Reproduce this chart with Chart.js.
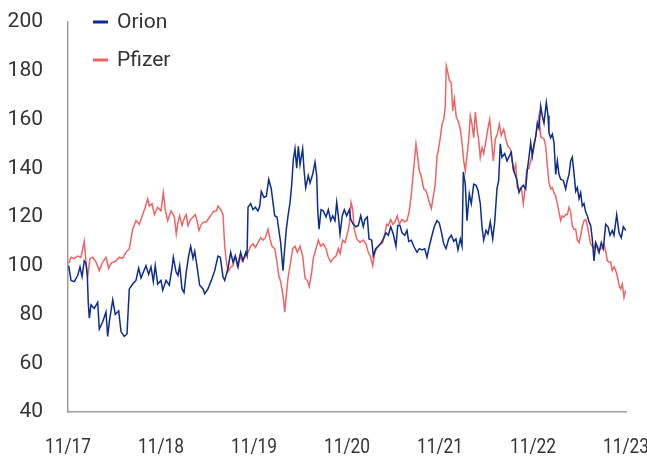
<!DOCTYPE html>
<html>
<head>
<meta charset="utf-8">
<script src="https://cdn.jsdelivr.net/npm/chart.js@4"></script>
<style>
  body { margin: 0; background: #fff; }
</style>
</head>
<body>
<canvas id="myChart" width="647" height="457"></canvas>
<script>
// months since 11/2017
const tickPos = [0, 12, 24, 36, 48, 60, 72];
const tickLabels = ['11/17', '11/18', '11/19', '11/20', '11/21', '11/22', '11/23'];
const yTicks = [40, 60, 80, 100, 120, 140, 160, 180, 200];

const orionT = [0.09,0.39,0.81,1.25,1.55,1.81,2.10,2.32,2.49,2.62,2.75,2.97,3.39,3.83,4.04,4.48,4.90,5.12,5.33,5.77,
  6.10,6.54,6.84,7.26,7.61,7.91,8.35,8.77,9.12,9.42,10.06,10.41,10.71,11.01,11.26,11.57,12.00,12.22,12.65,13.07,
  13.42,13.59,13.94,14.19,
  14.41,14.71,14.97,15.26,15.57,15.83,16.13,16.35,16.68,16.99,17.42,17.64,18.06,18.49,18.93,19.35,19.65,20.00,20.22,20.65,
  20.99,21.29,21.59,21.94,22.28,22.58,22.93,23.10,23.23,23.57,23.87,24.17,24.52,24.74,24.94,25.29,25.59,25.90,26.23,26.45,
  26.67,26.97,27.19,27.44,27.74,27.96,28.17,28.39,28.65,
  28.86,29.07,29.29,29.51,29.72,29.94,30.28,30.45,30.67,31.01,31.23,31.57,31.87,32.09,32.22,32.39,32.65,32.94,33.29,33.59,
  33.90,34.15,34.45,34.67,34.88,35.10,35.39,35.65,35.96,36.30,36.48,36.81,37.16,37.46,37.77,38.10,38.32,38.62,38.84,39.19,
  39.39,39.70,40.04,40.35,40.68,41.03,41.33,41.64,41.97,42.32,42.54,42.84,43.10,
  43.45,43.74,43.96,44.30,44.61,45.03,45.33,45.68,46.03,46.32,46.62,46.97,47.26,47.61,47.91,48.17,48.48,48.77,49.12,49.46,
  49.77,50.06,50.32,50.62,50.84,51.01,51.26,51.48,51.78,52.04,52.35,52.65,52.90,53.20,53.42,53.64,53.94,54.19,54.49,54.80,
  55.06,55.35,55.57,55.78,56.00,56.35,56.65,56.94,57.20,57.46,
  57.90,58.19,58.49,58.75,59.06,59.27,59.48,59.70,59.91,60.13,60.35,60.56,60.77,60.99,61.20,61.42,61.72,61.94,62.06,62.28,
  62.49,62.71,62.93,63.14,63.35,63.57,63.91,64.22,64.43,64.65,64.86,65.07,65.29,65.51,65.72,65.94,66.15,66.36,66.58,66.80,
  67.01,67.23,67.44,67.65,67.87,68.09,68.30,68.52,68.81,69.07,69.38,69.68,69.94,70.23,70.45,70.80,71.10,71.39,71.65,71.96];
const orionV = [100,94,93.5,96,99.5,95.5,102,101,96,84.5,78.5,84,82.5,85,74,77,81,71,77,86,
  80,81.5,73,71,72,90.5,92.5,94,99,95,100,96.5,99.5,93.5,100,92.5,94,90,94,92,
  99,103.5,97.5,96,
  100,90.5,89,97.5,104,108,103,106,99,92,90.5,88.5,90.5,94,98,104,103.5,95.5,94,99,
  105.5,101.5,104,99.5,105.5,102,105.5,104,124,125.5,123,124,122.5,124.5,130.5,128,128.5,135.5,131.5,126,
  120.5,120,115,109.5,98,107,115,120.5,126,
  133,143.5,148,140,149,141.5,148,139.5,132,137,134,137.5,142.5,137,123,115,123,122.5,120,123,
  118.5,120.5,118.5,126,120.5,113,120.5,123,120.5,123,119,117,116,116.5,120.5,116,119,120,111,110.5,
  104,107,108,109,111,113.5,112.5,116,113,108,116.5,116.5,113.5,
  112.5,114.5,110,110.5,108,105.5,107,106.5,107,103.5,108,112.5,116,118.5,117.5,114,109,107,111,112.5,
  110,111,106.5,111,108,138.5,133.5,118.5,129.5,125.5,133.5,133,131,125.5,116,110.5,114.5,113,118,111,
  118,131.5,135,150,144.5,146,143,145,146.5,139.5,
  135.5,130,132,133,131.5,139.5,144.5,150.5,145,150,153,158.5,156.5,165.5,161.5,158.5,167,161.5,154.5,152.5,
  154,150.5,137.5,143,137.5,135.5,135,131.5,135,137.5,143,144.5,138,130.5,132,127.5,130,124.5,125.5,122,
  120.5,118,116.5,111,102,109.5,108,105.5,109.5,107,117,116,112.5,114.5,112.5,121,113.5,111.5,116,114.5];

const pfizerT = [0.09,0.39,0.81,1.25,1.68,2.10,2.32,2.54,2.84,3.19,3.61,4.04,4.48,4.90,5.25,5.55,6.19,6.62,7.06,7.48,
  7.91,8.35,8.77,9.20,9.64,9.97,10.28,10.49,10.84,11.14,11.57,12.00,12.30,12.55,12.86,13.29,13.72,13.97,
  14.19,14.41,14.71,15.06,15.26,15.48,15.83,16.13,16.43,16.68,16.90,17.20,17.55,17.85,18.28,18.49,18.84,19.14,19.35,19.70,
  20.00,20.22,20.43,20.65,20.99,21.29,21.59,21.85,22.15,22.45,22.80,23.23,23.57,23.87,24.17,24.52,24.86,25.16,25.46,25.81,
  26.06,26.32,26.67,26.97,27.19,27.44,27.74,27.96,28.17,28.39,
  28.65,28.99,29.29,29.59,29.94,30.28,30.58,30.88,31.13,31.45,31.65,32.00,32.30,32.61,32.94,33.29,33.59,33.90,34.23,34.58,
  34.88,35.10,35.44,35.74,36.04,36.30,36.52,36.74,36.94,37.25,37.68,38.10,38.45,38.75,39.06,39.32,39.61,39.91,40.26,40.61,
  40.90,41.12,41.33,41.64,41.90,42.19,42.49,42.75,43.10,
  43.45,43.74,44.04,44.30,44.48,44.74,44.90,45.12,45.33,45.59,45.90,46.19,46.54,46.88,47.19,47.39,47.61,47.83,48.04,48.26,
  48.48,48.68,48.81,49.03,49.20,49.46,49.64,49.85,50.10,50.32,50.62,50.84,51.06,51.26,51.48,51.70,51.91,52.13,52.35,52.55,
  52.77,52.99,53.20,53.42,53.64,53.94,54.19,54.41,54.62,54.88,55.14,55.44,55.65,55.91,56.22,56.52,56.77,57.07,57.29,57.55,
  57.77,57.97,58.19,58.49,58.75,58.97,59.19,59.48,59.70,59.91,60.13,60.35,60.56,60.77,60.99,61.20,61.42,61.64,61.85,62.06,
  62.28,62.49,62.71,62.93,63.14,63.35,63.57,63.78,64.00,64.22,64.43,64.65,64.86,65.07,65.29,65.51,65.72,65.94,66.15,66.36,
  66.58,66.80,67.01,67.23,67.44,67.65,67.87,68.09,68.30,68.52,68.73,68.94,69.16,69.38,69.59,69.81,70.02,70.23,70.45,70.67,
  70.87,71.10,71.31,71.52,71.74,71.96];
const pfizerV = [101,103.5,103,104,103.5,110,101.5,95.5,103,103.5,101.5,98,101.5,103.5,99,101,102,103.5,103,105.5,
  107,115,118.5,117,121,124,127.5,124.5,125.5,121,124,122.5,130,123,118.5,122.5,120,113,
  118,120.5,116.5,120,121,116.5,119,120,121,118,114.5,117,118,118,120,121,122.5,122.5,124.5,123,
  121,108,102,97.5,99.5,100,104,100,104,102,103.5,105.5,108,109,107.5,109.5,111.5,110.5,111.5,115,
  111,108,107,101.5,96,93.5,88,81,88,95,
  100,107,108,105.5,108,104,95,94,91.5,97.5,103,107,110.5,108,109,107,103.5,101.5,103,104,
  107,105,110.5,109.5,113,117,126,123,115,111,109.5,110.5,109,105.5,103.5,100,105.5,107.5,109,109.5,
  113.5,117,116.5,119,117,118,120.5,117,119,
  118,118.5,122.5,129.5,135.5,144.5,150,144.5,139,136.5,131.5,131,127,123.5,129.5,133.5,144.5,148.5,152.5,158,
  160,165,182,179,176,175,163.5,168.5,161,159.5,156,150.5,143,139,145,151.5,161.5,158,152.5,163,
  156.5,151.5,144.5,148.5,146,151.5,156.5,160,152.5,143,152,154.5,158,153.5,156,151.5,149,148,143,139,
  141.5,132,131.5,132,125.5,131.5,139.5,140,143,145.5,148.5,153,157.5,161.5,153,152.5,152,149,141,134,
  131.5,132,130,128.5,125.5,122,118.5,120.5,120,121,121,124,122,116.5,115,115,110.5,109.5,112.5,116,
  118.5,119,116.5,112.5,109,108,107,109.5,107,105.5,107.5,107,109,106,102,101.5,101.5,98,99.5,98,
  96,92,90.5,92.5,87,90];

const toPoints = (t, v) => t.map((x, i) => ({ x: x, y: v[i] }));

const textColor = '#333333';
const axisColor = '#9c9c9c';

// legend inside the plot (top left) and narrow date labels under the x axis
const extraText = {
  id: 'extraText',
  afterDraw(chart) {
    const ctx = chart.ctx;
    const area = chart.chartArea;
    ctx.save();
    ctx.font = '21px Roboto';
    ctx.textBaseline = 'middle';
    chart.data.datasets.forEach((ds, i) => {
      const y = area.top + i * 38;
      ctx.strokeStyle = ds.borderColor;
      ctx.lineWidth = 3;
      ctx.beginPath();
      ctx.moveTo(area.left + 25, y);
      ctx.lineTo(area.left + 40, y);
      ctx.stroke();
      ctx.fillStyle = textColor;
      ctx.fillText(ds.label, area.left + 49, y + 1);
    });

    // date labels: squeezed horizontally like a condensed face
    ctx.textAlign = 'center';
    const k = 46 / ctx.measureText('11/17').width;
    const xs = chart.scales.x;
    tickPos.forEach((v, i) => {
      ctx.save();
      ctx.translate(xs.getPixelForValue(v), area.bottom + 36);
      ctx.scale(k, 1);
      ctx.fillText(tickLabels[i], 0, 0);
      ctx.restore();
    });
    ctx.restore();
  }
};

var ctx = document.getElementById('myChart').getContext('2d');
var chart = new Chart(ctx, {
  type: 'line',
  data: {
    datasets: [
      {
        label: 'Orion',
        data: toPoints(orionT, orionV),
        borderColor: '#0d2d8c',
        borderWidth: 1.5,
        pointRadius: 0,
        tension: 0
      },
      {
        label: 'Pfizer',
        data: toPoints(pfizerT, pfizerV),
        borderColor: '#f06464',
        borderWidth: 1.5,
        pointRadius: 0,
        tension: 0
      }
    ]
  },
  options: {
    responsive: false,
    animation: false,
    layout: { padding: { left: 0, right: 21, top: 22, bottom: 0 } },
    plugins: { legend: { display: false }, tooltip: { enabled: false } },
    scales: {
      x: {
        type: 'linear',
        min: 0,
        max: 72,
        grid: { display: false, drawTicks: false },
        border: { color: axisColor, width: 1.5 },
        afterBuildTicks: (s) => { s.ticks = tickPos.map(v => ({ value: v })); },
        afterFit: (s) => { s.height = 45; s.paddingLeft = 0; s.paddingRight = 0; },
        ticks: { display: false }
      },
      y: {
        min: 40,
        max: 200,
        grid: { display: false, drawTicks: false },
        border: { color: axisColor, width: 1.5 },
        afterBuildTicks: (s) => { s.ticks = yTicks.map(v => ({ value: v })); },
        afterFit: (s) => { s.width = 68; s.paddingTop = 0; s.paddingBottom = 0; },
        ticks: {
          padding: 25,
          color: textColor,
          font: { family: 'Roboto', size: 21 }
        }
      }
    }
  },
  plugins: [extraText]
});
</script>
</body>
</html>
